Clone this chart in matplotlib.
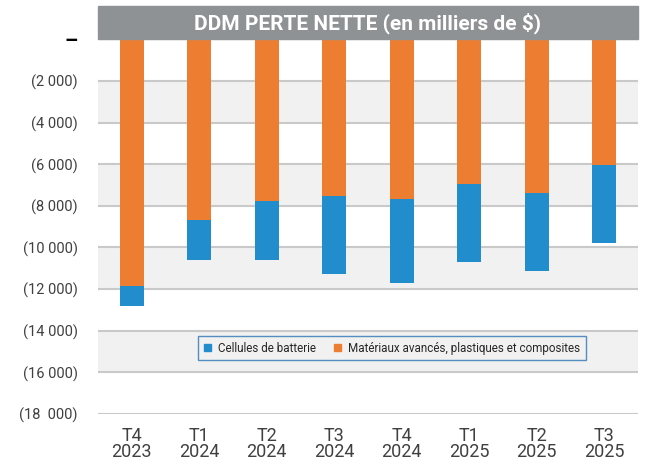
import numpy as np
import matplotlib.pyplot as plt
from matplotlib.patches import Patch, Rectangle

# quarters and values (en milliers de $)
quarters = ["T4\n2023", "T1\n2024", "T2\n2024", "T3\n2024", "T4\n2024", "T1\n2025", "T2\n2025", "T3\n2025"]
materiaux = [-11850, -8680, -7760, -7520, -7670, -6940, -7380, -6040]
batterie = [-950, -1920, -2840, -3750, -4030, -3760, -3750, -3740]

yticks = [0, -2000, -4000, -6000, -8000, -10000, -12000, -14000, -16000, -18000]
ytick_labels = ["–", "(2 000)", "(4 000)", "(6 000)", "(8 000)", "(10 000)",
                "(12 000)", "(14 000)", "(16 000)", "(18  000)"]

orange = "#ED7D31"
blue = "#228DCD"
band = "#F0F1F0"
grid = "#C9C9C9"
txt = "#404040"

plt.rcParams['font.family'] = ['Roboto', 'DejaVu Sans']

fig = plt.figure(figsize=(6.5, 4.65), dpi=100)
ax = fig.add_axes([98 / 650, 1 - 414 / 465, 540 / 650, (414 - 39.3) / 465])

x = np.arange(len(quarters))
ax.set_xlim(-0.5, len(quarters) - 0.5)
ax.set_ylim(-18000, 0)

# alternating background bands
for lo in [-4000, -8000, -12000, -16000]:
    ax.axhspan(lo, lo + 2000, color=band, zorder=0, lw=0)
for y in yticks:
    ax.axhline(y, color=grid, lw=1.5, zorder=1)

w = 0.355
ax.bar(x, materiaux, w, color=orange, zorder=3)
ax.bar(x, batterie, w, bottom=materiaux, color=blue, zorder=3)

for s in ax.spines.values():
    s.set_visible(False)

ax.set_yticks(yticks)
ax.set_yticklabels(ytick_labels, fontsize=10.5, color=txt)
zero = ax.get_yticklabels()[0]
zero.set_color("black")
zero.set_fontweight("bold")
zero.set_fontsize(15)
ax.set_xticks(x)
ax.set_xticklabels(quarters, fontsize=13, color=txt, linespacing=0.9)
ax.tick_params(axis="both", length=0)
ax.tick_params(axis="y", pad=14.5)
ax.tick_params(axis="x", pad=9)

# title banner
banner = Rectangle((0, 1.0), 1, 33 / 374.7, transform=ax.transAxes, color="#8F9294",
                   clip_on=False, zorder=5)
ax.add_patch(banner)
ax.text(0.5, 1.0 + 16.5 / 374.7, "DDM PERTE NETTE (en milliers de $)", transform=ax.transAxes,
        ha="center", va="center", color="white", fontsize=15, fontweight="bold", zorder=6)

handles = [Patch(color=blue, label="Cellules de batterie"),
           Patch(color=orange, label="Matériaux avancés, plastiques et composites")]
leg = ax.legend(handles=handles, ncol=2, loc="center",
                bbox_to_anchor=((392 - 98) / 540, (414 - 348) / 374.7),
                bbox_transform=ax.transAxes, fontsize=8.4, frameon=True, fancybox=False,
                handlelength=0.6, handleheight=0.6, handletextpad=0.6, columnspacing=1.6,
                borderpad=0.5)
leg.get_frame().set_edgecolor("#2E74B5")
leg.get_frame().set_facecolor(band)
leg.get_frame().set_linewidth(1.0)
for t in leg.get_texts():
    t.set_color("#262626")

fig.savefig("out.png", dpi=100)
